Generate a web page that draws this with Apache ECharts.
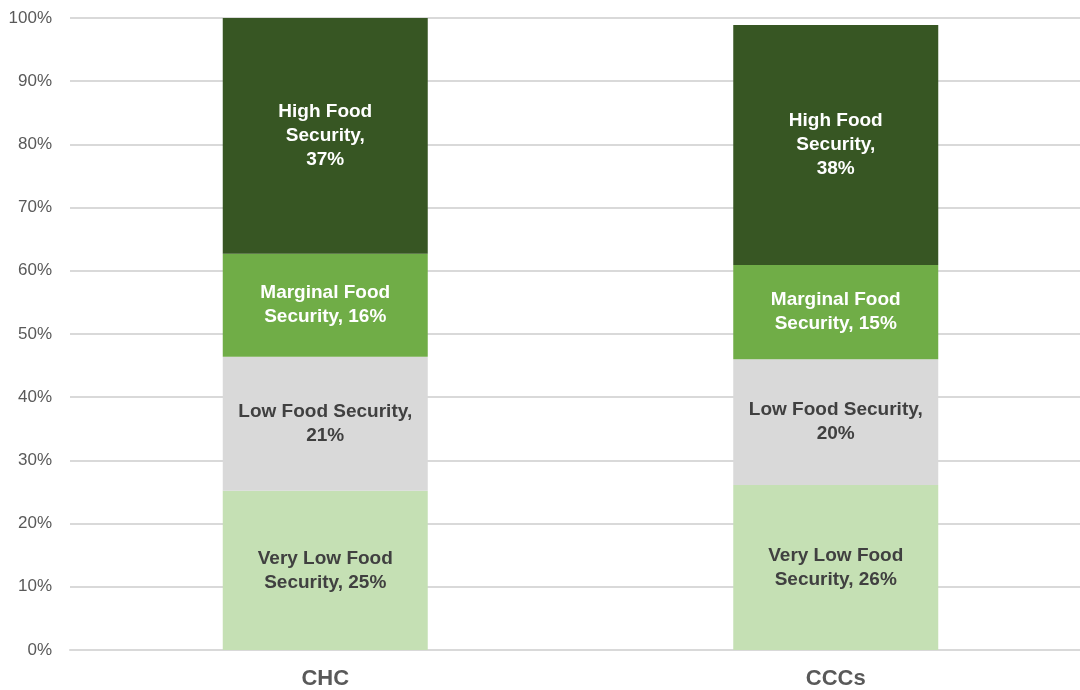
<!DOCTYPE html>
<html>
<head>
<meta charset="utf-8">
<script src="https://cdn.jsdelivr.net/npm/echarts@6/dist/echarts.min.js"></script>
<style>
  html, body { margin: 0; padding: 0; background: #fff; overflow: hidden; }
  /* the plot runs slightly past the right edge of the frame, like the source */
  #chart { width: 1091px; height: 690px; }
</style>
</head>
<body>
<div id="chart"></div>
<script>
const categories = ['CHC', 'CCCs'];

// segment heights (percent)
const veryLow = [25.2, 26.1];
const low = [21.2, 19.9];
const marginal = [16.3, 14.9];
const high = [37.3, 38.0];

// the rounded numbers printed in the labels
const veryLowText = ['25%', '26%'];
const lowText = ['21%', '20%'];
const marginalText = ['16%', '15%'];
const highText = ['37%', '38%'];

const yTicks = [0, 10, 20, 30, 40, 50, 60, 70, 80, 90, 100];

function makeSeries(name, data, texts, color, textColor, lineFn) {
    return {
        name: name,
        type: 'bar',
        stack: 'total',
        barWidth: 205,
        data: data,
        itemStyle: { color: color },
        label: {
            show: true,
            position: 'inside',
            color: textColor,
            fontFamily: 'Liberation Sans, Arial, sans-serif',
            fontWeight: 'bold',
            fontSize: 19,
            lineHeight: 24,
            formatter: function (p) { return lineFn(texts[p.dataIndex]); }
        }
    };
}

const chart = echarts.init(document.getElementById('chart'));
chart.setOption({
    animation: false,
    grid: { left: 70, right: 0, top: 18, bottom: 40 },
    xAxis: {
        type: 'category',
        data: categories,
        axisLine: { lineStyle: { color: '#d9d9d9', width: 2 } },
        axisTick: { show: false },
        axisLabel: {
            color: '#595959',
            fontFamily: 'Liberation Sans, Arial, sans-serif',
            fontWeight: 'bold',
            fontSize: 22,
            margin: 18
        }
    },
    yAxis: {
        type: 'value',
        min: yTicks[0],
        max: yTicks[yTicks.length - 1],
        interval: 10,
        axisLine: { show: false },
        axisTick: { show: false },
        splitLine: { lineStyle: { color: '#d9d9d9', width: 2 } },
        axisLabel: {
            color: '#595959',
            fontFamily: 'Liberation Sans, Arial, sans-serif',
            fontSize: 17,
            margin: 18,
            formatter: '{value}%'
        }
    },
    series: [
        makeSeries('Very Low Food Security', veryLow, veryLowText, '#c5e0b4', '#404040',
            t => 'Very Low Food\nSecurity, ' + t),
        makeSeries('Low Food Security', low, lowText, '#d9d9d9', '#404040',
            t => 'Low Food Security,\n' + t),
        makeSeries('Marginal Food Security', marginal, marginalText, '#70ad47', '#ffffff',
            t => 'Marginal Food\nSecurity, ' + t),
        makeSeries('High Food Security', high, highText, '#375623', '#ffffff',
            t => 'High Food\nSecurity,\n' + t)
    ]
});
</script>
</body>
</html>
